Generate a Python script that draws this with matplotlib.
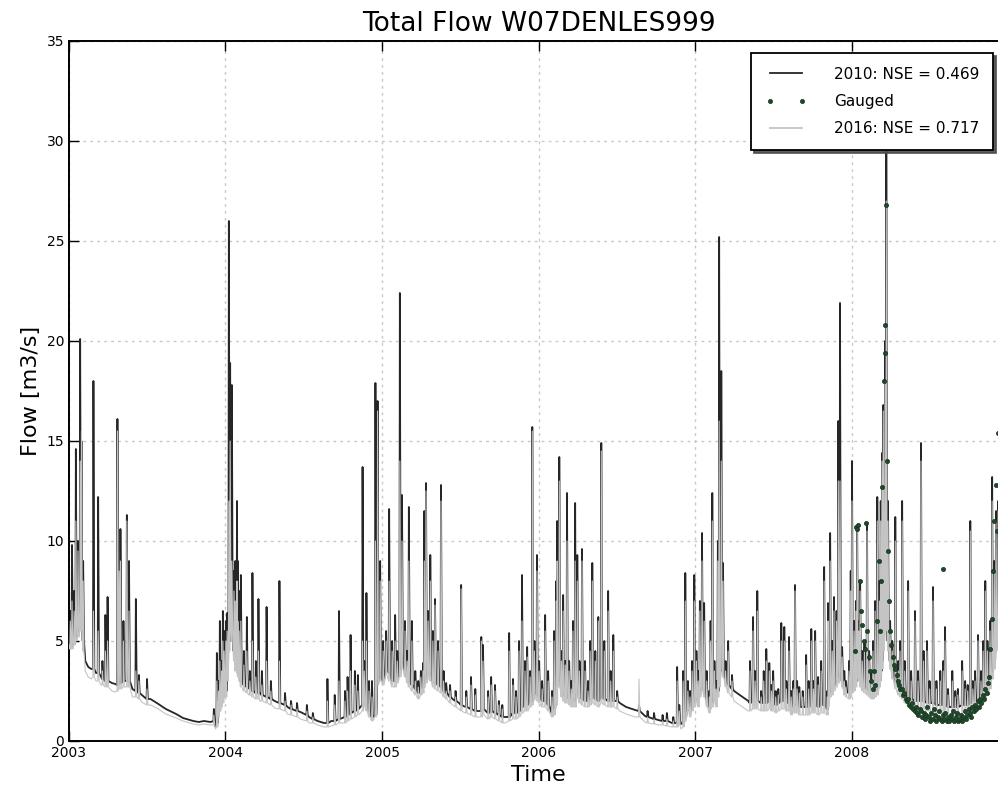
import numpy as np
import matplotlib
matplotlib.use('Agg')
import matplotlib.pyplot as plt
import matplotlib.dates as mdates

# all days are counted from 2003-01-01
start = np.datetime64('2003-01-01')

# quiet recession points between storms
base_day = [0, 38, 45, 52, 63, 75, 100, 108, 148, 170, 190, 205, 226, 250, 266, 290, 303, 315, 330, 342,
            400, 420, 445, 480, 510, 540, 560, 580, 595, 612, 638,
            895, 910, 920, 955, 1018,
            1285, 1300, 1321, 1344, 1375, 1407, 1428,
            1552, 1565, 1575, 1585,
            1955, 2050, 2080]
base_2010 = [5.0, 4.0, 3.7, 3.6, 3.4, 3.2, 2.9, 2.85, 2.6, 2.3, 2.1, 1.9, 1.6, 1.35, 1.15, 1.0, 0.95, 1.0, 0.95, 0.7,
             3.0, 2.7, 2.4, 2.0, 1.7, 1.45, 1.2, 1.0, 0.9, 1.0, 1.15,
             2.1, 1.9, 1.75, 1.5, 1.2,
             1.9, 1.7, 1.55, 1.25, 1.05, 0.9, 0.85,
             2.5, 2.3, 2.15, 2.0,
             2.25, 1.7, 1.75]
base_2016 = [4.8, 3.5, 3.2, 3.1, 3.0, 2.8, 2.5, 2.45, 2.2, 1.95, 1.8, 1.65, 1.35, 1.15, 1.0, 0.85, 0.8, 0.85, 0.8, 0.6,
             2.7, 2.3, 2.0, 1.65, 1.35, 1.1, 0.9, 0.8, 0.7, 0.75, 0.9,
             1.8, 1.6, 1.45, 1.2, 0.9,
             1.5, 1.35, 1.2, 0.95, 0.8, 0.7, 0.6,
             2.0, 1.8, 1.65, 1.5,
             1.85, 1.3, 1.35]

# storm events: day, flow before the rise, peak flow (both model runs)
storm_day = [3, 7, 12, 16, 21, 26, 29, 33, 57, 68, 78, 85, 90, 113, 117, 120, 127, 135, 140, 156, 163, 182,
             338, 345, 349, 352, 356, 359, 362,
             366, 369, 373, 376, 380, 385, 388, 392, 394, 397, 401, 408, 415, 422, 428, 436, 442, 450, 461, 471,
             491, 504, 518, 532, 555, 569, 603, 620, 630, 644, 650, 657, 667, 674, 685, 689, 694, 700, 707, 715,
             720, 726,
             733, 740, 747, 754, 761, 766, 772, 777, 784, 789, 793, 800, 808, 815, 821, 826, 829, 833, 838, 843,
             849, 854, 861, 868, 874, 880, 889, 902, 915, 927, 938, 948, 962, 966, 978, 985, 994, 1003, 1011,
             1027, 1036, 1043, 1050, 1057, 1064, 1069, 1076, 1081, 1086, 1092,
             1097, 1104, 1111, 1118, 1127, 1132, 1137, 1139, 1144, 1149, 1153, 1158, 1162, 1167, 1172, 1176, 1181,
             1186, 1191, 1197, 1204, 1211, 1216, 1221, 1228, 1235, 1242, 1249, 1258, 1264, 1270, 1279, 1330,
             1350, 1365, 1385, 1395, 1410, 1419, 1424, 1433, 1438, 1444, 1449, 1454, 1459,
             1464, 1468, 1472, 1477, 1482, 1488, 1494, 1497, 1501, 1506, 1510, 1514, 1517, 1522, 1526, 1532, 1538,
             1547, 1589, 1596, 1601, 1606, 1615, 1621, 1627, 1634, 1639, 1643, 1649, 1655, 1662, 1669, 1674, 1680,
             1685, 1690, 1694, 1699, 1704, 1712, 1720, 1726, 1732, 1737, 1741, 1748, 1755, 1762, 1769, 1771, 1776,
             1781, 1785, 1791, 1795, 1799, 1804, 1809, 1813, 1820, 1824, 1827,
             1832, 1836, 1839, 1843, 1846, 1851, 1856, 1862, 1867, 1872, 1876, 1881, 1886, 1891, 1894, 1897, 1900,
             1904, 1907, 1911, 1916, 1921, 1928, 1935, 1939, 1944, 1950, 1958, 1965, 1974, 1981, 1988, 1994, 2002,
             2008, 2016, 2024, 2033, 2040, 2044, 2051, 2061, 2068, 2074, 2084, 2091, 2097, 2103, 2109, 2114, 2121,
             2128, 2133, 2138, 2143, 2149, 2154, 2159, 2163, 2168, 2175]
foot_2010 = [4.8, 4.8, 5.0, 5.2, 5.5, 6.0, 6.5, 5.0, 3.6, 3.4, 3.1, 3.0, 3.0, 2.8, 2.9, 2.9, 3.0, 3.0, 3.0, 2.5, 2.4, 2.1,
             1.0, 0.9, 1.5, 1.8, 2.0, 2.2, 2.5,
             2.5, 3.5, 5.0, 6.0, 5.5, 4.5, 4.0, 3.8, 3.6, 3.3, 3.0, 2.8, 2.7, 2.6, 2.5, 2.4, 2.4, 2.3, 2.2, 2.1,
             1.9, 1.8, 1.6, 1.5, 1.3, 1.1, 0.9, 1.0, 1.1, 1.2, 1.3, 1.4, 1.5, 1.6, 1.8, 2.0, 1.8, 1.5, 1.2, 1.3,
             3.0, 3.2,
             3.0, 3.6, 3.4, 3.0, 3.0, 3.2, 3.5, 4.0, 3.5, 3.2, 3.0, 2.8, 2.6, 2.4, 2.6, 2.7, 3.0, 3.2, 3.5, 3.3,
             3.0, 2.9, 2.8, 2.7, 2.5, 2.4, 2.2, 2.0, 1.8, 1.7, 1.6, 1.5, 1.5, 1.6, 1.4, 1.5, 1.4, 1.3, 1.2,
             1.2, 1.4, 1.4, 1.5, 1.7, 1.8, 1.8, 2.0, 2.0, 2.5, 2.3,
             2.2, 2.0, 2.0, 1.8, 1.4, 1.5, 2.0, 3.0, 3.0, 2.5, 2.3, 2.2, 2.2, 2.1, 2.0, 2.0, 2.0,
             2.5, 2.2, 2.1, 2.0, 2.0, 2.1, 2.2, 2.1, 2.0, 2.2, 2.1, 2.0, 2.0, 2.0, 2.0, 1.5,
             1.2, 1.1, 1.0, 1.0, 0.9, 0.9, 1.0, 0.9, 1.2, 1.8, 1.5, 1.8, 2.0,
             2.2, 2.0, 2.5, 2.8, 2.5, 2.0, 1.7, 1.9, 2.0, 2.2, 2.0, 2.5, 3.0, 4.0, 3.5, 3.0, 2.8,
             2.6, 1.9, 2.0, 2.0, 2.0, 1.9, 1.9, 1.9, 2.0, 1.9, 1.9, 1.8, 1.9, 2.0, 2.0, 1.9, 1.9,
             1.7, 1.8, 1.8, 1.8, 1.7, 1.7, 1.7, 1.7, 1.8, 1.8, 1.8, 1.7, 1.8, 1.8, 1.6, 2.0, 2.5,
             2.6, 2.8, 3.0, 3.2, 3.5, 3.0, 2.6, 2.45, 2.4, 2.5, 2.7,
             2.8, 3.0, 3.5, 3.3, 3.0, 2.8, 2.7, 2.6, 2.5, 2.4, 2.4, 2.5, 2.6, 3.0, 3.5, 4.0, 5.0,
             6.0, 6.0, 5.0, 4.0, 3.5, 3.0, 2.7, 2.6, 2.5, 2.3, 2.2, 2.1, 2.0, 2.0, 2.0, 2.0, 1.9,
             1.9, 1.9, 1.8, 1.8, 1.8, 1.8, 1.7, 1.7, 1.7, 1.7, 1.8, 1.8, 1.8, 1.9, 2.0, 2.0, 2.1,
             2.2, 2.3, 2.5, 2.8, 3.0, 3.5, 4.0, 5.0, 6.0, 5.0]
peak_2010 = [6.5, 9.8, 7.5, 14.6, 10.0, 20.1, 15.0, 9.0, 18.0, 12.2, 4.0, 6.3, 7.2, 16.1, 8.0, 10.6, 6.0, 11.3, 9.0,
             7.1, 3.3, 3.1,
             1.6, 4.4, 3.0, 6.0, 4.0, 6.5, 5.5,
             6.0, 6.4, 26.0, 18.9, 17.8, 8.5, 9.0, 12.0, 9.0, 7.5, 8.3, 4.5, 6.2, 3.5, 8.4, 4.0, 7.1, 3.5, 6.7, 3.0,
             8.0, 2.4, 2.0, 1.9, 1.8, 1.4, 3.1, 2.3, 6.5, 2.5, 3.2, 5.3, 3.5, 3.3, 13.7, 4.0, 7.4, 3.0, 3.0, 17.9,
             17.0, 9.0,
             5.0, 5.5, 11.6, 5.0, 6.3, 4.5, 22.4, 12.3, 6.0, 4.5, 11.7, 6.0, 3.5, 3.0, 3.5, 3.9, 11.5, 12.9, 6.5,
             9.3, 5.5, 7.1, 5.0, 12.8, 3.5, 2.9, 2.8, 2.5, 7.8, 2.5, 3.2, 2.6, 5.2, 4.8, 2.5, 3.2, 2.8, 2.0, 1.8,
             5.4, 3.1, 2.5, 5.0, 8.3, 4.0, 4.7, 3.5, 15.7, 5.0, 9.3,
             4.0, 3.0, 6.3, 3.5, 2.5, 5.5, 8.0, 11.0, 14.2, 4.5, 7.3, 4.0, 12.4, 4.0, 3.0, 6.0, 11.9,
             9.3, 4.0, 9.6, 4.0, 3.0, 5.0, 8.9, 4.5, 6.2, 14.9, 5.0, 7.5, 3.5, 5.3, 2.5, 1.8,
             1.5, 1.4, 1.3, 1.4, 1.2, 3.7, 1.8, 3.5, 8.4, 3.0, 2.5, 4.0, 8.3,
             4.5, 3.5, 7.0, 10.4, 6.9, 3.5, 2.5, 6.0, 12.4, 4.0, 3.0, 10.0, 25.2, 18.5, 8.9, 4.0, 5.0,
             3.3, 4.0, 6.2, 3.5, 7.5, 2.5, 3.5, 4.6, 3.9, 2.8, 3.5, 2.5, 2.6, 5.9, 5.7, 3.0, 5.2,
             2.5, 3.0, 7.8, 3.0, 2.7, 2.5, 4.3, 3.0, 5.6, 3.0, 5.5, 3.2, 4.0, 8.7, 2.5, 6.9, 10.4,
             5.0, 7.2, 6.5, 16.0, 21.9, 4.7, 3.5, 3.0, 4.0, 8.5, 14.0,
             6.0, 7.0, 10.7, 6.0, 8.0, 4.5, 5.0, 10.9, 4.5, 3.5, 5.0, 7.0, 12.2, 8.0, 12.0, 14.4, 16.8,
             20.0, 31.0, 12.0, 6.0, 5.0, 11.2, 4.0, 5.0, 12.0, 4.0, 8.0, 3.5, 6.5, 3.5, 14.9, 4.5, 5.0,
             3.0, 7.7, 3.0, 3.5, 4.0, 5.7, 2.6, 3.5, 2.5, 2.6, 4.0, 3.0, 2.8, 11.0, 3.0, 3.5, 5.3,
             3.5, 5.0, 8.0, 5.0, 6.0, 13.2, 9.0, 11.5, 12.0, 8.0]
foot_2016 = [4.6, 4.6, 4.8, 5.0, 5.2, 5.5, 6.0, 4.5, 3.2, 3.0, 2.8, 2.7, 2.7, 2.5, 2.6, 2.6, 2.7, 2.7, 2.7, 2.2, 2.1, 1.8,
             0.8, 0.7, 1.2, 1.5, 1.7, 1.9, 2.2,
             2.2, 3.0, 4.5, 5.5, 5.0, 4.0, 3.5, 3.4, 3.2, 3.0, 2.7, 2.5, 2.4, 2.3, 2.2, 2.1, 2.1, 2.0, 1.9, 1.8,
             1.6, 1.5, 1.3, 1.2, 1.0, 0.9, 0.7, 0.8, 0.9, 0.9, 1.0, 1.1, 1.2, 1.3, 1.5, 1.7, 1.5, 1.2, 1.0, 1.2,
             2.8, 3.0,
             2.8, 3.3, 3.0, 2.7, 2.7, 2.9, 3.2, 3.6, 3.2, 2.9, 2.7, 2.5, 2.3, 2.1, 2.3, 2.4, 2.7, 2.9, 3.1, 3.0,
             2.7, 2.6, 2.5, 2.4, 2.2, 2.1, 1.9, 1.7, 1.5, 1.4, 1.3, 1.2, 1.2, 1.3, 1.1, 1.2, 1.1, 1.0, 0.9,
             1.0, 1.1, 1.1, 1.2, 1.4, 1.5, 1.5, 1.7, 1.8, 2.2, 2.0,
             1.9, 1.7, 1.7, 1.5, 1.2, 1.3, 1.8, 2.7, 2.7, 2.2, 2.0, 1.9, 1.9, 1.8, 1.7, 1.7, 1.7,
             2.2, 1.9, 1.8, 1.7, 1.7, 1.8, 1.9, 1.8, 1.7, 1.9, 1.8, 1.7, 1.7, 1.7, 1.6, 1.2,
             0.9, 0.85, 0.8, 0.75, 0.7, 0.7, 0.8, 0.7, 1.0, 1.5, 1.2, 1.5, 1.7,
             1.9, 1.7, 2.2, 2.5, 2.2, 1.7, 1.4, 1.6, 1.7, 1.9, 1.7, 2.2, 2.7, 3.6, 3.2, 2.7, 2.4,
             2.2, 1.5, 1.6, 1.6, 1.6, 1.5, 1.5, 1.5, 1.6, 1.5, 1.5, 1.4, 1.5, 1.6, 1.6, 1.5, 1.5,
             1.3, 1.4, 1.4, 1.4, 1.3, 1.3, 1.3, 1.3, 1.4, 1.4, 1.4, 1.3, 1.4, 1.4, 1.3, 1.7, 2.2,
             2.3, 2.5, 2.7, 2.9, 3.2, 2.7, 2.3, 2.2, 2.1, 2.2, 2.4,
             2.5, 2.7, 3.2, 3.0, 2.7, 2.5, 2.4, 2.3, 2.2, 2.1, 2.1, 2.2, 2.3, 2.7, 3.2, 3.6, 4.5,
             5.5, 5.5, 4.5, 3.6, 3.1, 2.6, 2.3, 2.2, 2.1, 1.9, 1.8, 1.7, 1.6, 1.6, 1.6, 1.6, 1.5,
             1.5, 1.5, 1.4, 1.4, 1.4, 1.4, 1.3, 1.3, 1.3, 1.3, 1.4, 1.4, 1.4, 1.5, 1.6, 1.6, 1.7,
             1.8, 1.9, 2.1, 2.4, 2.6, 3.1, 3.6, 4.5, 5.5, 4.5]
peak_2016 = [6.0, 7.0, 6.5, 11.0, 9.5, 14.0, 15.5, 8.0, 6.5, 5.5, 3.5, 4.5, 5.0, 15.5, 8.5, 9.0, 5.0, 11.0, 6.5,
             3.5, 3.0, 2.6,
             1.3, 3.0, 2.5, 4.0, 3.5, 5.0, 4.5,
             5.0, 5.5, 12.0, 15.0, 9.0, 7.5, 7.0, 8.0, 6.0, 5.5, 6.0, 3.8, 4.5, 3.0, 5.0, 3.2, 4.5, 2.8, 4.0, 2.5,
             4.0, 2.0, 1.8, 1.6, 1.5, 1.2, 2.0, 1.8, 3.0, 2.0, 2.5, 3.5, 2.8, 2.5, 5.0, 3.5, 5.0, 2.5, 2.2, 10.0,
             16.5, 8.0,
             4.5, 5.0, 8.0, 4.5, 5.0, 4.0, 14.0, 10.0, 5.5, 4.0, 9.0, 5.0, 3.0, 2.7, 3.2, 3.5, 9.0, 12.5, 6.0,
             8.0, 5.0, 6.8, 4.5, 12.0, 3.0, 2.5, 2.5, 2.2, 7.6, 2.2, 2.8, 2.3, 5.0, 4.0, 2.2, 2.8, 2.5, 1.8, 1.6,
             4.5, 2.8, 2.2, 4.5, 6.0, 3.5, 4.2, 3.2, 15.5, 4.5, 8.5,
             3.5, 2.6, 5.5, 3.0, 2.2, 5.0, 7.0, 9.0, 13.0, 4.0, 6.5, 3.8, 10.0, 3.5, 2.6, 5.5, 9.0,
             8.0, 3.5, 9.0, 3.5, 2.5, 4.5, 8.0, 4.0, 6.0, 14.5, 4.5, 6.5, 3.0, 4.5, 2.2, 3.1,
             1.2, 1.1, 1.0, 1.1, 1.0, 3.0, 1.5, 3.0, 7.0, 2.5, 2.2, 3.5, 7.0,
             4.0, 3.0, 6.5, 9.0, 6.0, 3.0, 2.2, 5.0, 11.0, 3.5, 2.6, 9.0, 16.0, 14.0, 8.0, 3.5, 4.5,
             3.0, 3.5, 5.5, 3.0, 6.5, 2.2, 3.0, 4.0, 3.5, 2.5, 3.0, 2.2, 2.3, 5.0, 5.0, 2.6, 4.5,
             2.2, 2.6, 7.5, 2.6, 2.4, 2.2, 3.8, 2.6, 5.0, 2.6, 5.0, 2.8, 3.5, 8.0, 2.2, 6.0, 9.0,
             4.5, 6.5, 6.0, 13.0, 13.0, 4.2, 3.0, 2.7, 3.5, 7.5, 12.0,
             5.5, 6.5, 10.5, 5.5, 7.5, 4.0, 4.5, 10.5, 4.0, 3.0, 4.5, 6.5, 11.0, 7.0, 11.0, 14.0, 16.5,
             18.0, 27.0, 11.0, 5.5, 4.5, 10.0, 3.5, 4.5, 11.0, 3.5, 7.5, 3.0, 6.0, 3.0, 14.0, 4.0, 4.5,
             2.6, 7.0, 2.6, 3.0, 3.5, 5.0, 2.3, 3.0, 2.2, 2.3, 3.5, 2.6, 2.5, 10.5, 2.6, 3.0, 5.0,
             3.0, 4.5, 7.5, 4.5, 5.5, 12.0, 8.5, 11.0, 11.5, 7.5]

# gauged flow, 2008 only
gauged_day = [1833, 1836, 1839, 1842, 1845, 1848, 1851, 1854, 1857, 1860, 1863, 1866, 1869, 1872, 1875, 1878, 1881,
              1886, 1889, 1892, 1895, 1898, 1901, 1903, 1905, 1907, 1909, 1911, 1913, 1916, 1919, 1922, 1925,
              1928, 1931, 1934, 1937, 1940, 1943, 1946, 1949, 1952, 1955, 1958, 1961, 1964, 1967, 1970, 1973,
              1976, 1979, 1982, 1985, 1988, 1991, 1994, 1997, 2000, 2003, 2006, 2009, 2012, 2015, 2018, 2021,
              2024, 2027, 2030, 2033, 2036, 2039, 2040, 2042, 2045, 2048, 2051, 2054, 2057, 2060, 2063, 2066,
              2069, 2072, 2075, 2078, 2081, 2084, 2087, 2090, 2093, 2096, 2099, 2102, 2105, 2108, 2111, 2114,
              2117, 2120, 2123, 2126, 2129, 2132, 2135, 2138, 2141, 2144, 2147, 2150, 2153, 2156, 2159, 2162,
              2165, 2168]
gauged_q = [4.5, 10.7, 10.6, 10.8, 8.0, 6.5, 5.8, 5.0, 4.6, 10.9, 5.5, 4.2, 3.5, 3.0, 2.6, 3.5, 2.8,
            6.0, 9.0, 5.5, 8.0, 12.7, 18.0, 19.4, 20.8, 26.8, 14.0, 9.5, 7.0, 5.5, 4.8, 4.2, 3.8,
            3.6, 3.3, 3.0, 2.8, 2.6, 2.6, 2.3, 2.4, 2.1, 2.0, 2.1, 1.8, 1.7, 1.9, 1.6, 1.5,
            1.7, 1.4, 1.3, 1.6, 1.5, 1.2, 1.4, 1.1, 1.3, 1.7, 1.2, 1.0, 1.4, 1.1, 1.6, 1.3,
            1.0, 1.2, 1.5, 1.1, 1.0, 1.3, 8.6, 1.1, 1.4, 1.0, 1.2, 1.0, 1.3, 1.1, 1.5, 1.0,
            1.2, 1.4, 1.0, 1.1, 1.3, 1.0, 1.2, 1.5, 1.1, 1.3, 1.6, 1.4, 1.2, 1.7, 1.5, 1.8,
            1.6, 2.0, 1.7, 2.1, 1.9, 2.3, 2.1, 2.6, 2.4, 2.9, 3.2, 4.6, 6.1, 8.5, 11.0, 12.8,
            10.5, 15.4]


def build(bq, foot, peak):
    d = list(base_day)
    q = list(bq)
    for s, f, p in zip(storm_day, foot, peak):
        d += [s - 1, s, s + 2]
        q += [f, p, f]
    order = np.argsort(d, kind='stable')
    d = np.array(d)[order]
    q = np.array(q)[order]
    return start + d.astype('timedelta64[D]'), q


t10, q10 = build(base_2010, foot_2010, peak_2010)
t16, q16 = build(base_2016, foot_2016, peak_2016)
tg = start + np.array(gauged_day).astype('timedelta64[D]')

fig = plt.figure(figsize=(9.98, 7.95), dpi=100)
ax = fig.add_axes([69 / 998, 1 - 741 / 795, 939 / 998, 700 / 795])

l10, = ax.plot(t10, q10, color='#262626', lw=1.3, zorder=2, label='2010: NSE = 0.469')
lg, = ax.plot(tg, gauged_q, 'o', color='#1e4a2a', markersize=3, markeredgewidth=0.5,
              markeredgecolor='#16331d', zorder=4, label='Gauged')
l16, = ax.plot(t16, q16, color='#c4c4c4', lw=0.8, zorder=3, label='2016: NSE = 0.717')

ax.set_xlim(np.datetime64('2003-01-01'), np.datetime64('2008-12-31'))
ax.set_ylim(0, 35)
ax.set_yticks(range(0, 36, 5))
ax.xaxis.set_major_locator(mdates.YearLocator())
ax.xaxis.set_major_formatter(mdates.DateFormatter('%Y'))
ax.tick_params(direction='in', top=True, right=True, length=7, width=1, labelsize=10)
ax.grid(True, color='#c8c8c8', linestyle=(0, (2, 3)), lw=1)
for sp in ax.spines.values():
    sp.set_linewidth(1.4)

ax.set_title('Total Flow W07DENLES999', fontsize=19, pad=7)
ax.set_xlabel('Time', fontsize=16)
ax.set_ylabel('Flow [m3/s]', fontsize=16)

leg = ax.legend([l10, lg, l16], [l10.get_label(), lg.get_label(), l16.get_label()],
                loc='upper right', bbox_to_anchor=(993 / 998, 1 - 53 / 795), bbox_transform=fig.transFigure,
                borderaxespad=0, fontsize=11, numpoints=2, handlelength=2.7, handletextpad=1.8,
                labelspacing=0.8, borderpad=0.9, fancybox=False, framealpha=1,
                shadow={'color': '0.3', 'alpha': 0.9})
leg.set_zorder(10)
leg.get_frame().set_edgecolor('black')
leg.get_frame().set_linewidth(1.3)
for h in leg.get_lines():
    h.set_linewidth(1.3)

fig.savefig('out.png', dpi=100)
